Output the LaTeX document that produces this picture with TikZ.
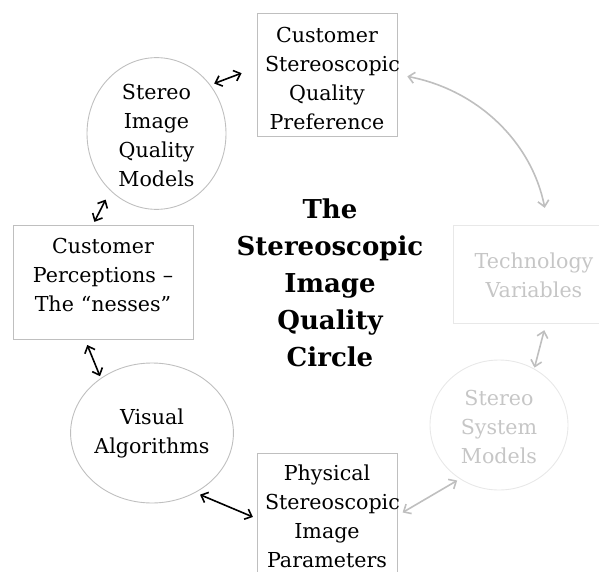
\documentclass[tikz,border=0pt]{standalone}
\usepackage{fontspec}
\setmainfont{DejaVu Serif}
\usetikzlibrary{positioning,shapes.geometric,arrows.meta}

\definecolor{linegray}{HTML}{BFBFBF}
\definecolor{palegray}{HTML}{E8E8E8}
\definecolor{paletext}{HTML}{C6C6C6}

\begin{document}
\begin{tikzpicture}[x=1pt,y=-1pt,>={Straight Barb[length=6pt,width=11pt]}]
  \tikzstyle{txt}=[align=center,font=\fontsize{20.6}{29}\selectfont]
  \tikzstyle{box}=[txt,draw=linegray,line width=0.9pt,inner xsep=8pt,inner ysep=0pt]
  \tikzstyle{round}=[txt,draw=linegray,line width=0.9pt,ellipse,inner sep=0pt]
  \tikzstyle{link}=[<->,line width=1.6pt]

  \useasboundingbox (0,0) rectangle (599,572);

  \node[box,text width=124pt,minimum height=123pt] (pref) at (327,74.5) {\rule{0pt}{23pt}Customer\\Stereoscopic\\Quality\\Preference};
  \node[round,minimum width=139pt,minimum height=127pt] (siqm) at (156.5,133.5) {\rule{0pt}{20pt}Stereo\\Image\\Quality\\Models};
  \node[box,text width=164pt,minimum height=114pt] (percept) at (103,282) {Customer\\Perceptions --\\The “nesses”\rule[-14pt]{0pt}{0pt}};
  \node[round,minimum width=148pt,minimum height=140pt] (visual) at (152,433) {Visual\\Algorithms};
  \node[box,text width=124pt,minimum height=127pt] (phys) at (327,516.5) {Physical\\Stereoscopic\\Image\\Parameters};
  \node[round,draw=palegray,text=paletext,minimum width=138pt,minimum height=130pt] (sys) at (499,425) {\rule{0pt}{19pt}Stereo\\System\\Models};
  \node[box,draw=palegray,text=paletext,text width=146pt,minimum height=98pt] (tech) at (534,274) {\rule{0pt}{19pt}Technology\\Variables};

  \node[align=center,font=\fontsize{26}{37}\selectfont\bfseries] (title) at (330,283) {The\\Stereoscopic\\Image\\Quality\\Circle};

  % black links
  \draw[link,shorten <=4pt,shorten >=16pt] (siqm.42) -- ([yshift=7pt]pref.west);
  \draw[link,shorten <=10pt,shorten >=3pt] (siqm.231) -- ([xshift=-10pt]percept.north);
  \draw[link,shorten <=6pt,shorten >=2pt] ([xshift=-18pt]percept.south) -- (visual.133);
  \draw[link,shorten <=5pt,shorten >=4pt] (visual.306) -- ([yshift=-2pt]phys.west);

  % grey links
  \draw[link,linegray,shorten <=6pt,shorten >=3pt] ([yshift=1pt]phys.east) -- (sys.234);
  \draw[link,linegray,shorten <=7pt,shorten >=1pt] ([xshift=12pt]tech.south) -- (sys.58);
  \draw[link,linegray,shorten <=10pt,shorten >=17pt] (pref.east) to[bend left=34] ([xshift=14pt]tech.north);
\end{tikzpicture}
\end{document}
